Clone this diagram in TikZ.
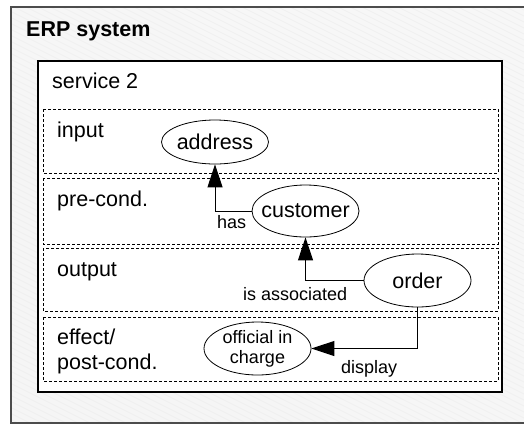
\documentclass[tikz,border=0pt]{standalone}
\usepackage{fontspec}
\setmainfont{Liberation Sans}
\usetikzlibrary{shapes.geometric,arrows.meta}
\begin{document}
\begin{tikzpicture}[x=1pt,y=-1pt,
  big/.style={font=\fontsize{21.5}{24}\selectfont, inner sep=0pt},
  bigb/.style={font=\fontsize{21.5}{24}\selectfont\bfseries, inner sep=0pt},
  small/.style={font=\fontsize{18}{20}\selectfont, inner sep=0pt},
  ent/.style={ellipse, draw, line width=0.8pt, minimum width=107pt, inner sep=0pt},
  rowbox/.style={draw, dash pattern=on 3pt off 2pt, line width=0.8pt},
  conn/.style={draw, line width=1pt, -{Triangle[length=23pt,width=15pt]}},
  hatch/.style={gray!12, line width=0.7pt}]
\useasboundingbox (0,0) rectangle (524,424);
% outer ERP system frame
\begin{scope}
  \clip (0,0) rectangle (524,424);
  \shade[left color=gray!6, middle color=gray!28, right color=gray!8, shading angle=-45] (11,7) rectangle (530,423);
  \begin{scope}
    \clip (11,7) rectangle (530,423);
    \foreach \i in {-300,-294,...,480} \draw[hatch] (0,\i) -- (524,\i+262);
  \end{scope}
  \draw[line width=1.5pt, black!70] (11,7) rectangle (530,423);
\end{scope}
\node[bigb, anchor=base west] (erp) at (26,36) {ERP system};
% service 2 box
\draw[fill=white, line width=1.2pt] (38,61) rectangle (502,392);
\node[big, anchor=base west] (svc) at (52,88) {service 2};
% rows
\draw[rowbox] (43,109) rectangle (498,173);
\draw[rowbox] (43,178) rectangle (498,244);
\draw[rowbox] (43,248) rectangle (498,311);
\draw[rowbox] (43,317) rectangle (498,381);
\node[big, anchor=base west] (lin) at (57,137) {input};
\node[big, anchor=base west] (lpre) at (57,206) {pre-cond.};
\node[big, anchor=base west] (lout) at (57,276) {output};
\node[big, anchor=base west] (leff) at (57,344) {effect/};
\node[big, anchor=base west] (lpost) at (57,369) {post-cond.};
% entities
\node[ent, minimum height=44pt] (address) at (215,142) {};
\node[big] (addresst) at (address) {address};
\node[ent, minimum height=52pt] (customer) at (305.5,211) {};
\node[big] (customert) at (customer) {customer};
\node[ent, minimum height=53pt] (order) at (417.5,280.5) {};
\node[big] (ordert) at (order) {order};
\node[ent, minimum height=53pt] (official) at (257.5,348.5) {};
\node[small, align=center] (officialt) at (official) {official in\\charge};
% connectors
\draw[conn] (customer.west) -| (address.south);
\draw[conn] (order.west) -| (customer.south);
\draw[conn] (order.south) |- (official.east);
\node[small, anchor=base west] (has) at (217,228) {has};
\node[small, anchor=base west] (assoc) at (243,300) {is associated};
\node[small, anchor=base west] (disp) at (341,373) {display};
\end{tikzpicture}
\end{document}
